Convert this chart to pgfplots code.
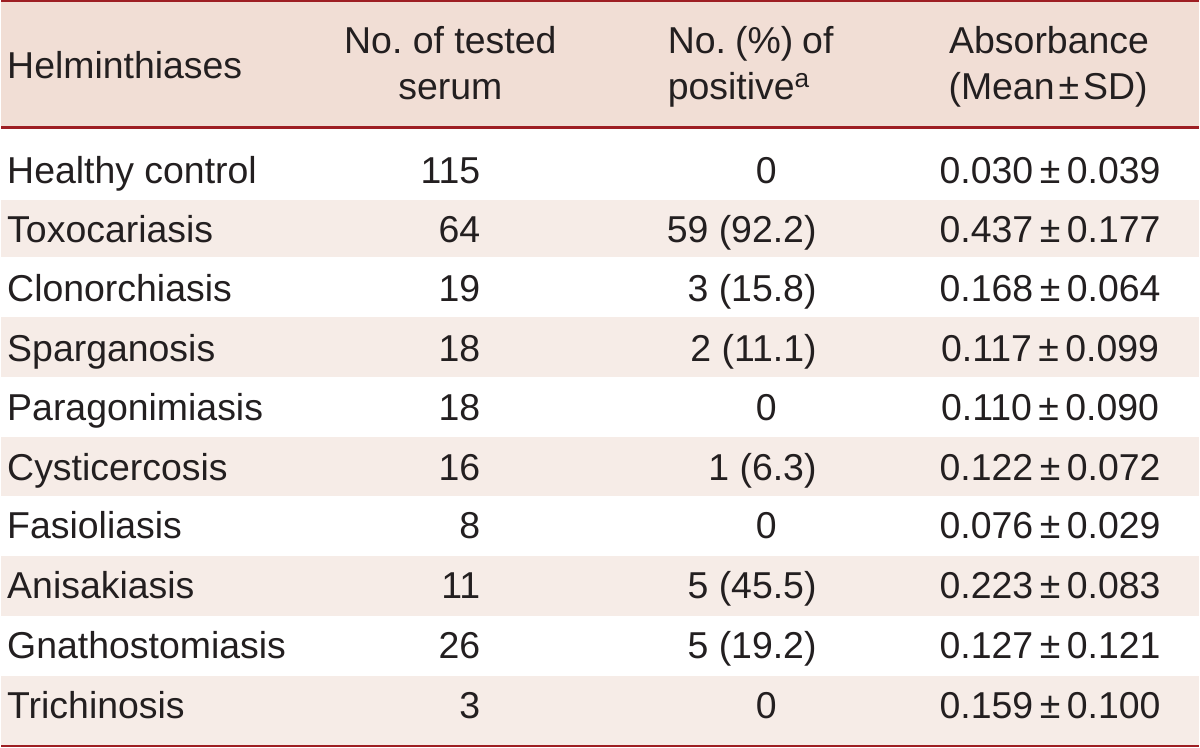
\documentclass[border=0pt]{standalone}
\usepackage{pgfplots}
\pgfplotsset{compat=1.18}
\usepackage{fontspec}
\setmainfont{Liberation Sans}
\frenchspacing
\definecolor{hdr}{HTML}{F1DED5}
\definecolor{stripe}{HTML}{F6ECE7}
\definecolor{rule}{HTML}{9E1E23}
\definecolor{tc}{HTML}{231F20}
\newcommand{\tabfont}{\fontsize{37.5}{44}\selectfont\frenchspacing}
\newcommand{\pmsep}{\hspace{6.5pt}±\hspace{6.5pt}}
\begin{document}
\begin{tikzpicture}
\begin{axis}[
  width=1200pt, height=749pt, scale only axis,
  xmin=0, xmax=1200, ymin=0, ymax=749, y dir=reverse,
  hide axis, clip=false,
  every node near coord/.append style={font=\tabfont, text=tc, inner sep=0pt, outer sep=0pt},
]
% backgrounds
\addplot[fill=white, draw=none] coordinates {(0,0) (1200,0) (1200,749) (0,749)};
\addplot[fill=hdr, draw=none] coordinates {(0,0) (1200,0) (1200,128) (0,128)};
\addplot[fill=stripe, draw=none] coordinates {(0,200) (1200,200) (1200,258) (0,258)};
\addplot[fill=stripe, draw=none] coordinates {(0,318) (1200,318) (1200,378) (0,378)};
\addplot[fill=stripe, draw=none] coordinates {(0,438) (1200,438) (1200,497) (0,497)};
\addplot[fill=stripe, draw=none] coordinates {(0,557) (1200,557) (1200,617) (0,617)};
\addplot[fill=stripe, draw=none] coordinates {(0,677) (1200,677) (1200,747) (0,747)};
% rules
\addplot[rule, line width=2.5pt] coordinates {(0,1.25) (1200,1.25)};
\addplot[rule, line width=2.5pt] coordinates {(0,128) (1200,128)};
\addplot[rule, line width=2.5pt] coordinates {(0,747.75) (1200,747.75)};
% column 1 (left aligned)
\addplot[only marks, mark=none, nodes near coords, point meta=explicit symbolic,
  nodes near coords align={anchor=base west}] coordinates {
  (6,79) [Helminthiases]
  (6,184) [Healthy control]
  (6,243) [Toxocariasis]
  (6,302) [Clonorchiasis]
  (6,362) [Sparganosis]
  (6,421) [Paragonimiasis]
  (6,481) [Cysticercosis]
  (6,540) [Fasioliasis]
  (6,600) [Anisakiasis]
  (6,660) [Gnathostomiasis]
  (6,720) [Trichinosis]
};
% column 2 header (centered)
\addplot[only marks, mark=none, nodes near coords, point meta=explicit symbolic,
  nodes near coords align={anchor=base}] coordinates {
  (450,54) [No.\ of tested]
  (450,100) [serum]
};
% column 2 values (right aligned)
\addplot[only marks, mark=none, nodes near coords, point meta=explicit symbolic,
  nodes near coords align={anchor=base east}] coordinates {
  (480,184) [115]
  (480,243) [64]
  (480,302) [19]
  (480,362) [18]
  (480,421) [18]
  (480,481) [16]
  (480,540) [8]
  (480,600) [11]
  (480,660) [26]
  (480,720) [3]
};
% column 3 header
\addplot[only marks, mark=none, nodes near coords, point meta=explicit symbolic,
  nodes near coords align={anchor=base west}] coordinates {
  (668,54) [No.\hspace{9pt}(\%)\hspace{9pt}of]
  (668,100) [positive\raisebox{3pt}{\textsuperscript{a}}]
};
% column 3 values with positives (right aligned)
\addplot[only marks, mark=none, nodes near coords, point meta=explicit symbolic,
  nodes near coords align={anchor=base east}] coordinates {
  (817,243) [59 (92.2)]
  (817,302) [3 (15.8)]
  (817,362) [2 (11.1)]
  (817,481) [1 (6.3)]
  (817,600) [5 (45.5)]
  (817,660) [5 (19.2)]
};
% column 3 zero values
\addplot[only marks, mark=none, nodes near coords, point meta=explicit symbolic,
  nodes near coords align={anchor=base east}] coordinates {
  (777,184) [0]
  (777,421) [0]
  (777,540) [0]
  (777,720) [0]
};
% column 4 header
\addplot[only marks, mark=none, nodes near coords, point meta=explicit symbolic,
  nodes near coords align={anchor=base}] coordinates {
  (1050,54) [Absorbance]
  (1049,100) [(Mean\hspace{4pt}±\hspace{4pt}SD)]
};
% column 4 values
\addplot[only marks, mark=none, nodes near coords, point meta=explicit symbolic,
  nodes near coords align={anchor=base}] coordinates {
  (1051,184) [0.030\pmsep 0.039]
  (1051,243) [0.437\pmsep 0.177]
  (1051,302) [0.168\pmsep 0.064]
  (1051,362) [0.117\pmsep 0.099]
  (1051,421) [0.110\pmsep 0.090]
  (1051,481) [0.122\pmsep 0.072]
  (1051,540) [0.076\pmsep 0.029]
  (1051,600) [0.223\pmsep 0.083]
  (1051,660) [0.127\pmsep 0.121]
  (1051,720) [0.159\pmsep 0.100]
};
\end{axis}
\end{tikzpicture}
\end{document}
